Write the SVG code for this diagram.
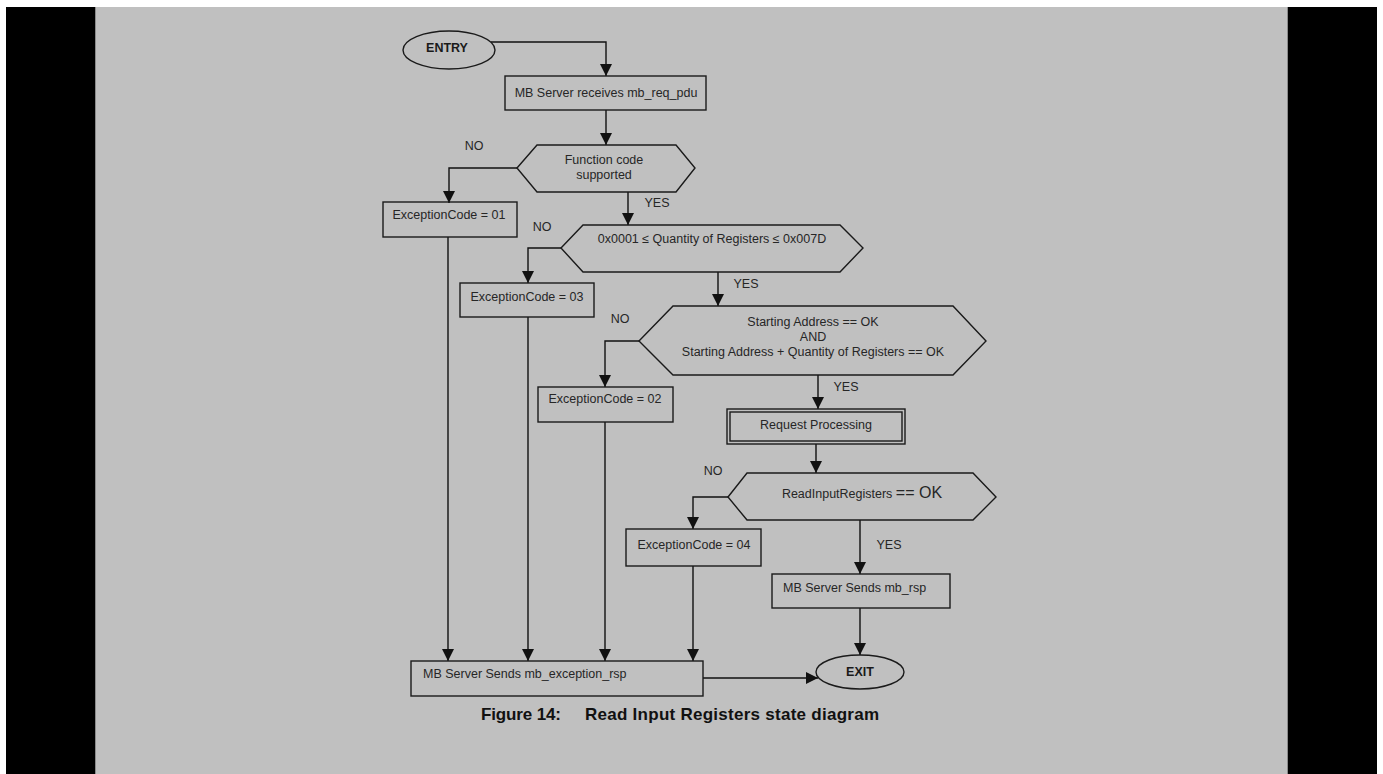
<svg xmlns="http://www.w3.org/2000/svg" width="1383" height="774" viewBox="0 0 1383 774">
<defs>
<marker id="arr" markerUnits="userSpaceOnUse" markerWidth="12" markerHeight="12" viewBox="0 0 12 12" refX="12" refY="6" orient="auto">
<path d="M0,0 L12,6 L0,12 Z" fill="#111"/>
</marker>
<style>
.s{fill:none;stroke:#1a1a1a;stroke-width:1.4}
.c{fill:none;stroke:#111;stroke-width:1.4;marker-end:url(#arr)}
.t{font-family:"Liberation Sans",Arial,sans-serif;font-size:12.5px;fill:#262626}
.m{text-anchor:middle}
.b{font-weight:bold;fill:#1a1a1a}
.cap{font-family:"Liberation Sans",Arial,sans-serif;font-size:17px;font-weight:bold;fill:#111}
</style>
</defs>
<rect x="0" y="0" width="1383" height="774" fill="#ffffff"/>
<rect x="6" y="7" width="1371" height="767" fill="#000000"/>
<rect x="95" y="7" width="1193" height="767" fill="#8a8a8a"/>
<rect x="96" y="7" width="1191" height="767" fill="#c0c0c0"/>

<g id="connectors">
<path class="c" d="M491,42 H606 V76"/>
<path class="c" d="M606,110 V145"/>
<path class="c" d="M517,168 H449 V203"/>
<path class="c" d="M628,192 V225"/>
<path class="c" d="M561,248 H528 V283"/>
<path class="c" d="M718,272 V306"/>
<path class="c" d="M639,341 H605 V387"/>
<path class="c" d="M818,375 V409"/>
<path class="c" d="M816,444 V473"/>
<path class="c" d="M728,497 H693 V529"/>
<path class="c" d="M860,520 V574"/>
<path class="c" d="M860,608 V655"/>
<path class="c" d="M448,237 V661"/>
<path class="c" d="M528,317 V661"/>
<path class="c" d="M605,422 V661"/>
<path class="c" d="M693,566 V661"/>
<path class="c" d="M703,678 H818"/>
<g class="t m">
<text x="474" y="150">NO</text>
<text x="657" y="207">YES</text>
<text x="542" y="231">NO</text>
<text x="746" y="288">YES</text>
<text x="620" y="323">NO</text>
<text x="846" y="391">YES</text>
<text x="713" y="475">NO</text>
<text x="889" y="549">YES</text>
</g>
</g>

<g id="entry">
<ellipse class="s" cx="449" cy="50" rx="46" ry="19"/>
<text class="t m b" x="447" y="52">ENTRY</text>
</g>
<g id="receive">
<rect class="s" x="505" y="76" width="201" height="34"/>
<text class="t m" x="606" y="97">MB Server receives mb_req_pdu</text>
</g>
<g id="fc-supported">
<polygon class="s" points="517,168 537,145 676,145 695,168 676,192 537,192"/>
<text class="t m" x="604" y="164">Function code</text>
<text class="t m" x="604" y="179">supported</text>
</g>
<g id="exc01">
<rect class="s" x="383" y="202" width="134" height="35"/>
<text class="t m" x="449" y="219">ExceptionCode = 01</text>
</g>
<g id="quantity">
<polygon class="s" points="561,248 583,225 840,225 863,248 840,272 583,272"/>
<text class="t m" x="712" y="243">0x0001 ≤ Quantity of Registers ≤ 0x007D</text>
</g>
<g id="exc03">
<rect class="s" x="460" y="283" width="134" height="34"/>
<text class="t m" x="527" y="301">ExceptionCode = 03</text>
</g>
<g id="address">
<polygon class="s" points="639,341 673,306 953,306 986,341 953,375 673,375"/>
<text class="t m" x="813" y="326">Starting Address == OK</text>
<text class="t m" x="813" y="341">AND</text>
<text class="t m" x="813" y="356">Starting Address + Quantity of Registers == OK</text>
</g>
<g id="exc02">
<rect class="s" x="538" y="387" width="135" height="35"/>
<text class="t m" x="605" y="403">ExceptionCode = 02</text>
</g>
<g id="processing">
<rect class="s" x="727" y="409" width="178" height="35"/>
<rect class="s" x="730" y="412" width="172" height="29"/>
<text class="t m" x="816" y="429">Request Processing</text>
</g>
<g id="readinput">
<polygon class="s" points="728,497 747,473 973,473 996,497 973,520 747,520"/>
<text class="t m" x="862" y="498">ReadInputRegisters <tspan font-size="16">== OK</tspan></text>
</g>
<g id="exc04">
<rect class="s" x="626" y="529" width="135" height="37"/>
<text class="t m" x="694" y="549">ExceptionCode = 04</text>
</g>
<g id="sendrsp">
<rect class="s" x="772" y="574" width="178" height="34"/>
<text class="t" x="783" y="592">MB Server Sends mb_rsp</text>
</g>
<g id="sendexc">
<rect class="s" x="411" y="661" width="292" height="35"/>
<text class="t" x="423" y="678">MB Server Sends mb_exception_rsp</text>
</g>
<g id="exit">
<ellipse class="s" cx="860" cy="672" rx="44" ry="17"/>
<text class="t m b" x="860" y="676">EXIT</text>
</g>
<g id="caption">
<text class="cap" x="481" y="720" textLength="80" lengthAdjust="spacing">Figure 14:</text>
<text class="cap" x="585" y="720" textLength="294" lengthAdjust="spacing">Read Input Registers state diagram</text>
</g>
</svg>
